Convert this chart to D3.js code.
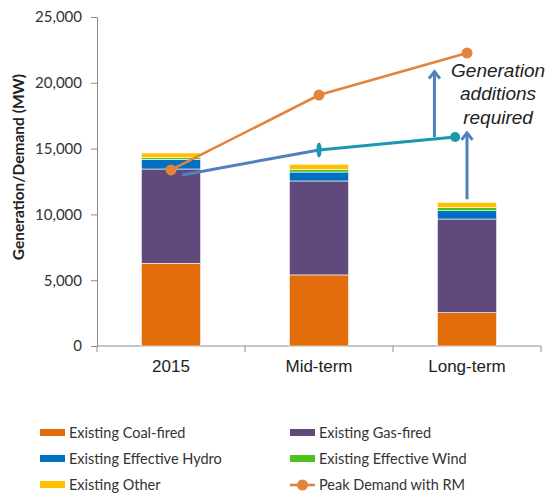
<!DOCTYPE html>
<html>
<head>
<meta charset="utf-8">
<script src="https://cdn.jsdelivr.net/npm/d3@7"></script>
<style>
  body { margin: 0; background: #fff; }
  svg { display: block; }
  .tick-label { font-family: Lato, "Open Sans", sans-serif; font-size: 15px; fill: #333; }
  .cat-label { font-family: "Liberation Sans", Arial, sans-serif; font-size: 17px; fill: #222; }
  .legend text { font-family: Lato, "Open Sans", sans-serif; font-size: 14.5px; fill: #333; }
</style>
</head>
<body>
<svg></svg>
<script>
const categories = ["2015", "Mid-term", "Long-term"]
const seriesNames = ["Existing Coal-fired", "Existing Gas-fired", "Existing Effective Hydro", "Existing Effective Wind", "Existing Other"]
const coal = [6280, 5400, 2530]
const gas = [7170, 7140, 7120]
const hydro = [740, 680, 630]
const wind = [120, 200, 230]
const other = [360, 390, 410]
const peakDemand = [13380, 19070, 22260]
const yTicks = [0, 5000, 10000, 15000, 20000, 25000]

// annotation: supply line and "additions" arrows (position = category index)
const supplyPos = [0.075, 1, 1.92]
const supplyVal = [13000, 14900, 15880]
const arrowPos = [1.78, 2.0]
const arrowFrom = [15880, 11150]
const arrowTo = [20850, 16200]
const noteLines = ["Generation", "additions", "required"]

const colors = ["#E36C0A", "#604A7B", "#0070C0", "#4EC11C", "#FFC000"]
const series = [coal, gas, hydro, wind, other]

const svg = d3.select("svg")
    .attr("width", 549)
    .attr("height", 495)

const x = d3.scaleBand()
    .domain(categories)
    .range([97, 541])

const barW = x.bandwidth() * 0.4
const cx = c => x(c) + x.bandwidth() / 2

const pos = d3.scaleLinear()
    .domain([0, categories.length - 1])
    .range([cx(categories[0]), cx(categories[categories.length - 1])])

const y = d3.scaleLinear()
    .domain([0, 25000])
    .range([346, 17])

// stacked data
const table = categories.map((c, i) => {
    const row = { cat: c }
    seriesNames.forEach((s, j) => { row[s] = series[j][i] })
    return row
})
const stacked = d3.stack().keys(seriesNames)(table)

// axes
const yAxis = svg.append("g")
    .attr("transform", "translate(97,0)")
    .call(d3.axisLeft(y).tickValues(yTicks).tickFormat(d3.format(",")).tickSize(6).tickPadding(9))
yAxis.select(".domain").attr("stroke", "#8c8c8c")
yAxis.selectAll(".tick line").attr("stroke", "#8c8c8c")
yAxis.selectAll(".tick text").attr("class", "tick-label").attr("fill", "#333")

const xAxis = svg.append("g")
    .attr("transform", "translate(0,346)")
xAxis.append("line")
    .attr("x1", 97).attr("x2", 541)
    .attr("stroke", "#8c8c8c")
xAxis.selectAll("line.xt")
    .data(categories.concat([null]))
    .enter()
    .append("line")
    .attr("class", "xt")
    .attr("x1", (d, i) => d ? x(d) : x(categories[categories.length - 1]) + x.bandwidth())
    .attr("x2", (d, i) => d ? x(d) : x(categories[categories.length - 1]) + x.bandwidth())
    .attr("y1", 0).attr("y2", 6)
    .attr("stroke", "#8c8c8c")
xAxis.selectAll("text")
    .data(categories)
    .enter()
    .append("text")
    .attr("class", "cat-label")
    .attr("x", d => cx(d))
    .attr("y", 26)
    .attr("text-anchor", "middle")
    .text(d => d)

svg.append("text")
    .attr("transform", "translate(24," + y(13600) + ") rotate(-90)")
    .attr("text-anchor", "middle")
    .style("font-family", "Lato, 'Open Sans', sans-serif")
    .style("font-weight", "bold")
    .style("font-size", "15.5px")
    .attr("fill", "#222")
    .text("Generation/Demand (MW)")

// bars
svg.selectAll("g.layer")
    .data(stacked)
    .enter()
    .append("g")
    .attr("class", "layer")
    .attr("fill", (d, i) => colors[i])
    .selectAll("rect")
    .data(d => d)
    .enter()
    .append("rect")
    .attr("x", d => cx(d.data.cat) - barW / 2)
    .attr("y", d => y(d[1]))
    .attr("width", barW)
    .attr("height", d => y(d[0]) - y(d[1]))
    .attr("stroke", "#fff")
    .attr("stroke-width", 0.6)

// arrow marker
svg.append("defs").append("marker")
    .attr("id", "head")
    .attr("markerUnits", "userSpaceOnUse")
    .attr("viewBox", "-10 -8 14 16")
    .attr("markerWidth", 14)
    .attr("markerHeight", 16)
    .attr("refX", 0)
    .attr("refY", 0)
    .attr("orient", "auto")
    .append("path")
    .attr("d", "M-7,-5.5 L0,0 L-7,5.5")
    .attr("fill", "none")
    .attr("stroke", "#4F81BD")
    .attr("stroke-width", 3)

// supply annotation line
svg.append("line")
    .attr("x1", pos(supplyPos[0])).attr("y1", y(supplyVal[0]))
    .attr("x2", pos(supplyPos[1])).attr("y2", y(supplyVal[1]))
    .attr("stroke", "#4F81BD")
    .attr("stroke-width", 3)
svg.append("line")
    .attr("x1", pos(supplyPos[1])).attr("y1", y(supplyVal[1]))
    .attr("x2", pos(supplyPos[2])).attr("y2", y(supplyVal[2]))
    .attr("stroke", "#1A98B0")
    .attr("stroke-width", 3)
svg.append("ellipse")
    .attr("cx", pos(supplyPos[1])).attr("cy", y(supplyVal[1]))
    .attr("rx", 2.6).attr("ry", 7.5)
    .attr("fill", "#1A98B0")
svg.append("circle")
    .attr("cx", pos(supplyPos[2])).attr("cy", y(supplyVal[2]))
    .attr("r", 5)
    .attr("fill", "#1A98B0")

// additions arrows
svg.selectAll("line.arrow")
    .data(arrowPos)
    .enter()
    .append("line")
    .attr("class", "arrow")
    .attr("x1", d => pos(d)).attr("x2", d => pos(d))
    .attr("y1", (d, i) => y(arrowFrom[i]))
    .attr("y2", (d, i) => y(arrowTo[i]))
    .attr("stroke", "#4F81BD")
    .attr("stroke-width", 3)
    .attr("marker-end", "url(#head)")

// peak demand line
const line = d3.line()
    .x((d, i) => cx(categories[i]))
    .y(d => y(d))
svg.append("path")
    .datum(peakDemand)
    .attr("d", line)
    .attr("fill", "none")
    .attr("stroke", "#E3843E")
    .attr("stroke-width", 2.6)
svg.selectAll("circle.peak")
    .data(peakDemand)
    .enter()
    .append("circle")
    .attr("class", "peak")
    .attr("cx", (d, i) => cx(categories[i]))
    .attr("cy", d => y(d))
    .attr("r", 5.5)
    .attr("fill", "#E3843E")

// note
svg.append("text")
    .attr("x", pos(2.21))
    .attr("y", y(20450))
    .attr("text-anchor", "middle")
    .style("font-family", "'Liberation Sans', Arial, sans-serif")
    .style("font-style", "italic")
    .style("font-size", "19px")
    .attr("fill", "#222")
    .selectAll("tspan")
    .data(noteLines)
    .enter()
    .append("tspan")
    .attr("x", pos(2.21))
    .attr("dy", (d, i) => i === 0 ? 0 : 23.5)
    .text(d => d)

// legend
const legendItems = [
    { name: seriesNames[0], color: colors[0], type: "bar" },
    { name: seriesNames[1], color: colors[1], type: "bar" },
    { name: seriesNames[2], color: colors[2], type: "bar" },
    { name: seriesNames[3], color: colors[3], type: "bar" },
    { name: seriesNames[4], color: colors[4], type: "bar" },
    { name: "Peak Demand with RM", color: "#E3843E", type: "line" }
]
const legend = svg.append("g").attr("class", "legend")
const items = legend.selectAll("g")
    .data(legendItems)
    .enter()
    .append("g")
    .attr("transform", (d, i) => `translate(${i % 2 === 0 ? 40 : 290}, ${433 + Math.floor(i / 2) * 26})`)
items.filter(d => d.type === "bar")
    .append("rect")
    .attr("x", 0).attr("y", -4)
    .attr("width", 25).attr("height", 7)
    .attr("fill", d => d.color)
items.filter(d => d.type === "line")
    .append("line")
    .attr("x1", 0).attr("x2", 25)
    .attr("stroke", d => d.color)
    .attr("stroke-width", 2.6)
items.filter(d => d.type === "line")
    .append("circle")
    .attr("cx", 12.5).attr("r", 5.5)
    .attr("fill", d => d.color)
items.append("text")
    .attr("x", 29)
    .attr("y", 5)
    .text(d => d.name)
</script>
</body>
</html>
